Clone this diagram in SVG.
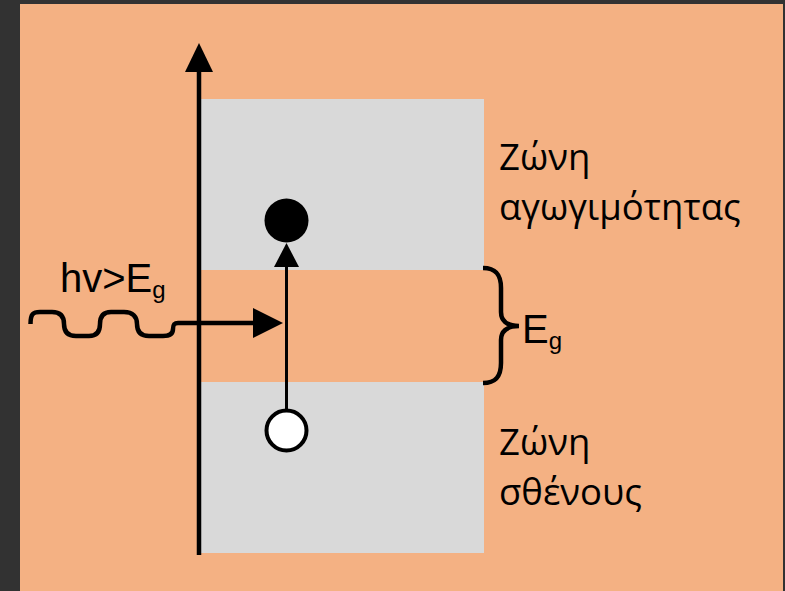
<svg xmlns="http://www.w3.org/2000/svg" width="785" height="591" viewBox="0 0 785 591">
<style>
.ln{stroke:#000;fill:none;stroke-linecap:butt}
.ah{fill:#000;stroke:none}
.gr{font-family:"Open Sans","Noto Sans",sans-serif;font-size:36.5px;fill:#000}
.lat{font-family:"Liberation Sans",Arial,sans-serif;font-size:40px;fill:#000}
.sub{font-size:24px}
</style>
<rect x="0" y="0" width="785" height="591" fill="#323232"/>
<rect x="20" y="4" width="763" height="587" fill="#F4B183"/>
<g id="bands">
<rect x="201" y="99" width="283" height="171" fill="#D9D9D9"/>
<rect x="201" y="382" width="283" height="171" fill="#D9D9D9"/>
</g>
<g id="connectors">
<line class="ln" x1="199" y1="555" x2="199" y2="70" stroke-width="4.5"/>
<polygon class="ah" points="199,43 185,72 213,72"/>
<path class="ln" stroke-width="4.5" stroke-linejoin="round" d="M30.5,324 C30.5,314 33,312 40,312 L52,312 C61,312 64,317 64,324 C64,331 67,336 76,336 L89,336 C97,336 100,331 100,324 C100,317 103,312 111,312 L124,312 C133,312 137,317 137,324 C137,331 140,336 149,336 L163,336 C170,336 173,333 173,329 C173,325 174,323 178,323 L256,323"/>
<polygon class="ah" points="283,323 253,308 253,338"/>
<line class="ln" x1="286.5" y1="410" x2="286.5" y2="262" stroke-width="3"/>
<polygon class="ah" points="286.5,243 274,267 299,267"/>
<path class="ln" stroke-width="4.5" d="M483,268 C496,268 501,275 501,288 L501,312 C501,320 506,326 519,326 C506,326 501,332 501,340 L501,363 C501,376 496,383 483,383"/>
</g>
<g id="electron"><circle cx="286.5" cy="220.5" r="22" fill="#000"/></g>
<g id="hole"><circle cx="286.5" cy="430.5" r="20" fill="#fff" stroke="#000" stroke-width="4"/></g>
<g id="label-photon"><text class="lat" x="60" y="292">hv&gt;E<tspan class="sub" dy="6">g</tspan></text></g>
<g id="label-eg"><text class="lat" x="522" y="343">E<tspan class="sub" dy="6">g</tspan></text></g>
<g id="label-conduction"><text class="gr" x="499" y="170">Ζώνη</text><text class="gr" x="499" y="220">αγωγιμότητας</text></g>
<g id="label-valence"><text class="gr" x="499" y="455">Ζώνη</text><text class="gr" x="499" y="505">σθένους</text></g>
</svg>
